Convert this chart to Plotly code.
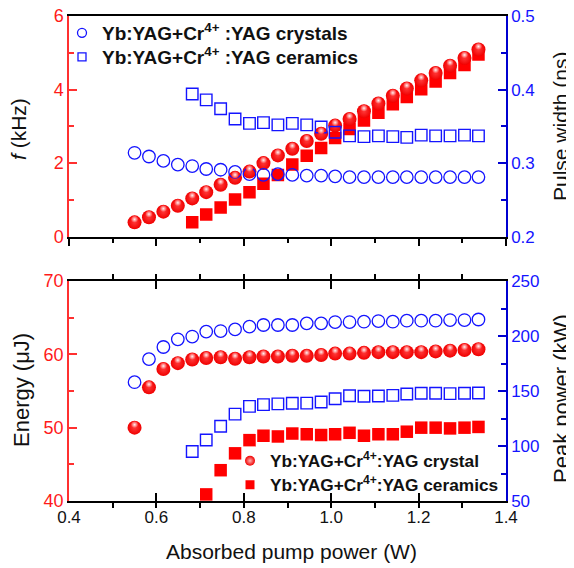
import plotly.graph_objects as go

# ---------------- data ----------------
x_pump = [0.550, 0.583, 0.616, 0.649, 0.682, 0.714, 0.747, 0.780, 0.813, 0.845,
          0.878, 0.911, 0.944, 0.977, 1.009, 1.042, 1.075, 1.108, 1.141, 1.173,
          1.206, 1.239, 1.272, 1.305, 1.337]
x_cer = [0.682, 0.714, 0.747, 0.780, 0.813, 0.845, 0.878, 0.911, 0.944, 0.977,
         1.009, 1.042, 1.075, 1.108, 1.141, 1.173, 1.206, 1.239, 1.272, 1.305, 1.337]
x_cer_e = [0.714, 0.747, 0.780, 0.813, 0.845, 0.878, 0.911, 0.944, 0.977, 1.009,
           1.042, 1.075, 1.108, 1.141, 1.173, 1.206, 1.239, 1.272, 1.305, 1.337]

f_crystal = [0.39, 0.53, 0.68, 0.84, 1.04, 1.21, 1.41, 1.60, 1.77, 2.00,
             2.21, 2.39, 2.60, 2.80, 3.02, 3.20, 3.41, 3.62, 3.83, 4.03,
             4.25, 4.45, 4.65, 4.86, 5.09]
f_ceramics = [0.39, 0.60, 0.79, 1.01, 1.21, 1.44, 1.68, 1.96, 2.20, 2.41,
              2.68, 2.93, 3.16, 3.37, 3.60, 3.80, 4.01, 4.22, 4.45, 4.67, 4.95]

pw_crystal = [0.314, 0.309, 0.303, 0.298, 0.296, 0.292, 0.291, 0.288, 0.285, 0.284,
              0.285, 0.284, 0.283, 0.283, 0.282, 0.281, 0.281, 0.281, 0.281, 0.281,
              0.281, 0.281, 0.281, 0.281, 0.281]
pw_ceramics = [0.394, 0.386, 0.374, 0.360, 0.354, 0.355, 0.352, 0.354, 0.352, 0.349,
               0.342, 0.337, 0.336, 0.337, 0.336, 0.335, 0.338, 0.337, 0.337, 0.338, 0.337]

e_crystal = [50.0, 55.5, 58.0, 58.8, 59.3, 59.5, 59.6, 59.4, 59.6, 59.7,
             59.7, 59.8, 59.8, 59.9, 60.1, 60.1, 60.2, 60.3, 60.3, 60.3,
             60.3, 60.4, 60.5, 60.6, 60.7]
e_ceramics = [40.9, 44.2, 46.5, 48.3, 48.9, 48.8, 49.2, 49.1, 49.0, 49.1,
              49.3, 48.9, 49.1, 49.1, 49.45, 50.0, 50.0, 49.9, 50.0, 50.1]

pp_crystal = [158, 179, 190, 197, 199.5, 204, 204.5, 206, 208.5, 210,
              210, 210, 211.5, 211.5, 212.7, 212.7, 213, 213.6, 213, 213.9,
              213.9, 213.9, 214.5, 214.5, 215]
pp_ceramics = [95, 105.5, 118, 129, 136, 137.6, 138.3, 138.8, 139, 140,
               143, 145.7, 145.2, 145.5, 146, 147.3, 147.9, 147.9, 147.6, 147.9, 148.2]

name_top_c = "<b>Yb:YAG+Cr<sup>4+</sup> :YAG crystals</b>"
name_top_k = "<b>Yb:YAG+Cr<sup>4+</sup> :YAG ceramics</b>"
name_bot_c = "<b>Yb:YAG+Cr<sup>4+</sup>:YAG crystal</b>"
name_bot_k = "<b>Yb:YAG+Cr<sup>4+</sup>:YAG ceramics</b>"

# ---------------- styles ----------------
FONT = "Liberation Sans, Arial, sans-serif"
RED = "#ff0000"
RED_AX = "#ff3030"
BLUE = "#1414ff"
BLUE_AX = "#0000d0"

sphere = dict(symbol="circle", size=14, color="#f00000",
              gradient=dict(type="radial", color="#ff3a3a"), line=dict(width=0))
hilite = dict(symbol="circle", size=7, color="#ff2a2a",
              gradient=dict(type="radial", color="#fff0f0"), line=dict(width=0))
redsq = dict(symbol="square", size=12.5, color=RED, line=dict(width=0))
bcirc = dict(symbol="circle-open", size=12.5, color=BLUE, line=dict(width=1.3, color=BLUE))
bsq = dict(symbol="square-open", size=11.5, color=BLUE, line=dict(width=1.4, color=BLUE))

fig = go.Figure()

# ---- top panel ----
fig.add_trace(go.Scatter(x=x_cer, y=f_ceramics, mode="markers", marker=redsq,
                         xaxis="x2", yaxis="y", showlegend=False))
fig.add_trace(go.Scatter(x=x_pump, y=f_crystal, mode="markers", marker=sphere,
                         xaxis="x2", yaxis="y", showlegend=False))
fig.add_trace(go.Scatter(x=x_pump, y=f_crystal, mode="markers", marker=hilite,
                         xaxis="x2", yaxis="y5", showlegend=False, hoverinfo="skip"))
fig.add_trace(go.Scatter(x=x_cer, y=pw_ceramics, mode="markers", marker=bsq,
                         xaxis="x2", yaxis="y2", showlegend=False))
fig.add_trace(go.Scatter(x=x_pump, y=pw_crystal, mode="markers", marker=bcirc,
                         xaxis="x2", yaxis="y2", showlegend=False))

# ---- bottom panel ----
fig.add_trace(go.Scatter(x=x_cer_e, y=e_ceramics, mode="markers", marker=redsq,
                         xaxis="x", yaxis="y3", showlegend=False))
fig.add_trace(go.Scatter(x=x_pump, y=e_crystal, mode="markers", marker=sphere,
                         xaxis="x", yaxis="y3", showlegend=False))
fig.add_trace(go.Scatter(x=x_pump, y=e_crystal, mode="markers", marker=hilite,
                         xaxis="x", yaxis="y6", showlegend=False, hoverinfo="skip"))
fig.add_trace(go.Scatter(x=x_cer, y=pp_ceramics, mode="markers", marker=bsq,
                         xaxis="x", yaxis="y4", showlegend=False))
fig.add_trace(go.Scatter(x=x_pump, y=pp_crystal, mode="markers", marker=bcirc,
                         xaxis="x", yaxis="y4", showlegend=False))

# ---- legend entries (one legend per row, for exact row placement) ----
fig.add_trace(go.Scatter(x=[None], y=[None], mode="markers", name=name_top_c,
                         marker=dict(symbol="circle-open", size=9, color=BLUE, line=dict(width=1.3)),
                         xaxis="x2", yaxis="y2", legend="legend"))
fig.add_trace(go.Scatter(x=[None], y=[None], mode="markers", name=name_top_k,
                         marker=dict(symbol="square-open", size=8, color=BLUE, line=dict(width=1.3)),
                         xaxis="x2", yaxis="y2", legend="legend2"))
fig.add_trace(go.Scatter(x=[None], y=[None], mode="markers", name=name_bot_c,
                         marker=dict(symbol="circle", size=10, color="#f00000",
                                     gradient=dict(type="radial", color="#ffb0b0")),
                         xaxis="x", yaxis="y3", legend="legend3"))
fig.add_trace(go.Scatter(x=[None], y=[None], mode="markers", name=name_bot_k,
                         marker=dict(symbol="square", size=9, color=RED),
                         xaxis="x", yaxis="y3", legend="legend4"))

# ---------------- axes ----------------
top_dom = [0.545, 1.0]
bot_dom = [0.0, 0.4536]
xr = [0.4, 1.4]

def xcommon(**kw):
    d = dict(range=xr, dtick=0.2, tick0=0.4, showgrid=False, zeroline=False,
             tickcolor="black", tickwidth=1.5, ticklen=8, automargin=False,
             ticklabeloverflow="allow",
             minor=dict(dtick=0.1, tick0=0.4, ticklen=5, tickwidth=1.5, tickcolor="black"),
             fixedrange=True)
    d.update(kw)
    return d

def ycommon(color, lcolor, rng, dtick, mdtick, fsize, **kw):
    d = dict(range=rng, dtick=dtick, tick0=rng[0], showgrid=False, zeroline=False,
             ticks="inside", ticklen=8, tickwidth=1.5, tickcolor=lcolor, automargin=False,
             ticklabeloverflow="allow",
             minor=dict(dtick=mdtick, tick0=rng[0], ticks="inside", ticklen=5,
                        tickwidth=1.5, tickcolor=lcolor),
             showline=True, linecolor=lcolor, linewidth=1.5,
             tickfont=dict(family=FONT, size=fsize, color=color), fixedrange=True)
    d.update(kw)
    return d

d_top = 3 * 6 / 220.0
d_bot = 3 * 30 / 220.0

# page is offset by the 8px body margin: plot area spans page x 69..506, y 16..501
PL, PT, PW, PH = 69, 16, 437, 485

def px(xp):
    return (xp - PL) / PW

def py(yp):
    return (PT + PH - yp) / PH

def leg(xl, yc, size):
    return dict(x=px(xl), y=py(yc), xanchor="left", yanchor="middle",
                bgcolor="rgba(0,0,0,0)", borderwidth=0,
                font=dict(family=FONT, size=size, color="#111"), itemsizing="trace")

fig.update_layout(
    template="none",
    width=566, height=560,
    margin=dict(l=61, r=68, t=8, b=67, autoexpand=False),
    paper_bgcolor="white", plot_bgcolor="white",
    font=dict(family=FONT, color="black"),
    xaxis=xcommon(domain=[0, 1], anchor="y3", ticks="inside", mirror="ticks",
                  showline=True, linecolor="black", linewidth=1.5,
                  tickformat=".1f", tickfont=dict(family=FONT, size=17, color="#111")),
    xaxis3=xcommon(overlaying="x", anchor="y3", side="top", ticks="outside",
                   showticklabels=False, showline=False),
    xaxis2=xcommon(domain=[0, 1], anchor="y", ticks="outside", showline=True,
                   linecolor="black", linewidth=1.5, mirror=True, showticklabels=False),
    xaxis4=xcommon(overlaying="x2", anchor="y", side="bottom", ticks="inside",
                   showticklabels=False, showline=False),
    yaxis=ycommon("#ff1a1a", RED_AX, [0, 6], 2, 1, 18, domain=top_dom, anchor="x2"),
    yaxis2=ycommon(BLUE, BLUE_AX, [0.2, 0.5], 0.1, 0.05, 17, overlaying="y", side="right",
                   anchor="x2", tickformat=".1f"),
    yaxis3=ycommon("#ff1a1a", RED_AX, [40, 70], 10, 5, 18, domain=bot_dom, anchor="x"),
    yaxis4=ycommon(BLUE, BLUE_AX, [50, 250], 50, 25, 17, overlaying="y3", side="right",
                   anchor="x"),
    yaxis5=dict(overlaying="y", range=[0 - d_top, 6 - d_top], visible=False, anchor="x2",
                fixedrange=True, automargin=False),
    yaxis6=dict(overlaying="y3", range=[40 - d_bot, 70 - d_bot], visible=False, anchor="x",
                fixedrange=True, automargin=False),
    legend=leg(62, 33, 19),
    legend2=leg(62, 57, 19),
    legend3=leg(230, 461, 17.3),
    legend4=leg(230, 485, 17.3),
    showlegend=True,
)

title_font = dict(family=FONT, size=21, color="#111")
fig.add_annotation(text="<i>f</i> (kHz)", xref="paper", yref="paper",
                   x=px(19), y=py(129), textangle=-90,
                   showarrow=False, font=title_font, xanchor="center", yanchor="middle")
fig.add_annotation(text="Energy (μJ)", xref="paper", yref="paper",
                   x=px(21), y=py(390), textangle=-90,
                   showarrow=False, font=dict(family=FONT, size=22, color="#111"),
                   xanchor="center", yanchor="middle")
fig.add_annotation(text="Pulse width (ns)", xref="paper", yref="paper",
                   x=px(561), y=py(127), textangle=-90,
                   showarrow=False, font=title_font, xanchor="center", yanchor="middle")
fig.add_annotation(text="Peak power (kW)", xref="paper", yref="paper",
                   x=px(561), y=py(399), textangle=-90,
                   showarrow=False, font=dict(family=FONT, size=22, color="#111"),
                   xanchor="center", yanchor="middle")
fig.add_annotation(text="Absorbed pump power (W)", xref="paper", yref="paper",
                   x=px(291), y=py(551),
                   showarrow=False, font=title_font, xanchor="center", yanchor="middle")

fig.write_html("out.html")
